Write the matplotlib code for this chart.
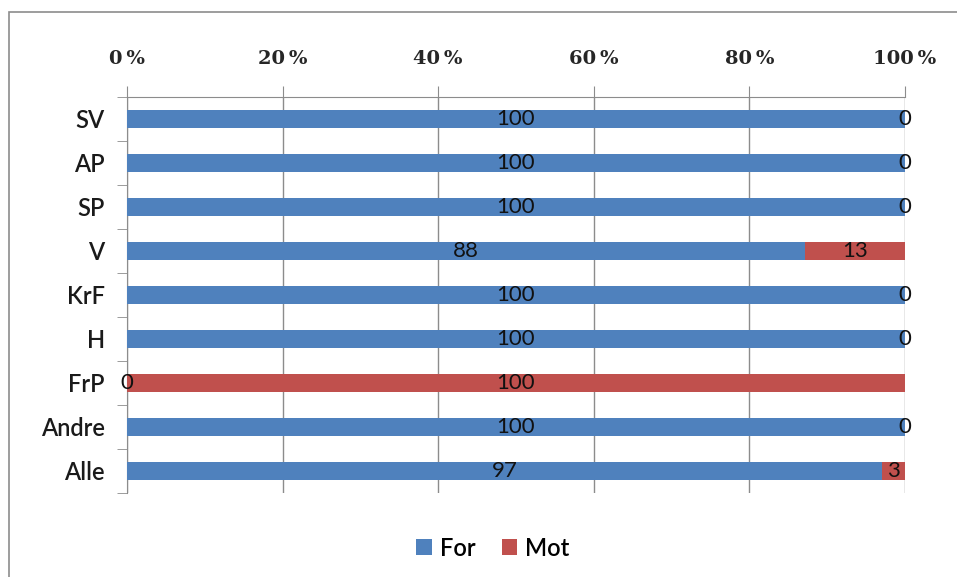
import numpy as np
import matplotlib.pyplot as plt
from matplotlib.patches import Rectangle

# data
partier = ['SV', 'AP', 'SP', 'V', 'KrF', 'H', 'FrP', 'Andre', 'Alle']
for_vals = [100, 100, 100, 88, 100, 100, 0, 100, 97]
mot_vals = [0, 0, 0, 13, 0, 0, 100, 0, 3]
xticks = [0, 20, 40, 60, 80, 100]

blue = '#4F81BD'
red = '#C0504D'
grid_col = '#8c8c8c'

W, H = 957, 577
fig = plt.figure(figsize=(W / 100, H / 100), dpi=100)
ax = fig.add_axes([127 / W, 1 - 493 / H, (905 - 127) / W, (493 - 97) / H])

# outer chart frame
fig.patches.append(Rectangle((9 / W, -0.05), 1.2, 1 - 12 / H + 0.05,
                             transform=fig.transFigure, fill=False,
                             edgecolor='#8c8c8c', lw=1.2))

fv = np.array(for_vals, dtype=float)
mv = np.array(mot_vals, dtype=float)
tot = fv + mv
fp = fv / tot * 100
mp = mv / tot * 100
y = np.arange(len(partier))

ax.barh(y, fp, height=0.39, color=blue, label='For', zorder=3)
ax.barh(y, mp, left=fp, height=0.39, color=red, label='Mot', zorder=3)

for i in range(len(partier)):
    ax.text(fp[i] / 2, y[i], str(for_vals[i]), ha='center', va='center',
            fontsize=16, family='Lato', color='#111111', zorder=4)
    ax.text(fp[i] + mp[i] / 2, y[i], str(mot_vals[i]), ha='center', va='center',
            fontsize=16, family='Lato', color='#111111', zorder=4)

ax.set_xlim(0, 100)
ax.set_ylim(len(partier) - 0.5, -0.5)

ax.xaxis.tick_top()
ax.set_xticks(xticks)
ax.set_xticklabels([f'{t}\u2009%' for t in xticks], family='DejaVu Serif',
                   fontsize=14, fontweight='bold', color='#262626')
ax.tick_params(axis='x', direction='out', length=8, color=grid_col, pad=13)
ax.grid(axis='x', color=grid_col, lw=1, zorder=0)

ax.set_yticks(y)
ax.set_yticklabels(partier, family='Lato', fontsize=17, fontweight='semibold',
                   color='#1a1a1a')
ax.set_yticks(np.arange(-0.5, len(partier)), minor=True)
ax.tick_params(axis='y', which='major', length=0, pad=16)
ax.tick_params(axis='y', which='minor', direction='out', length=7, color=grid_col)

for s in ['right', 'bottom']:
    ax.spines[s].set_visible(False)
for s in ['top', 'left']:
    ax.spines[s].set_color(grid_col)

fig.legend(loc='center', bbox_to_anchor=(493 / W, 1 - 548 / H), ncol=2,
           frameon=False, handlelength=0.65, handleheight=0.65,
           handletextpad=0.35, columnspacing=1.1,
           prop={'family': 'Lato', 'size': 17, 'weight': 'semibold'})

fig.savefig('out.png', dpi=100)
